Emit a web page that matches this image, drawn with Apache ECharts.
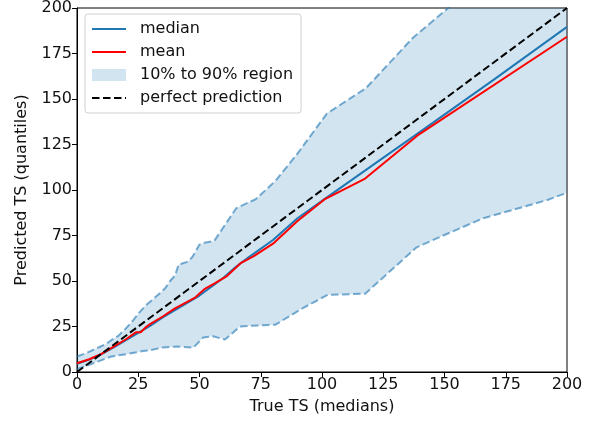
<!DOCTYPE html>
<html>
<head>
<meta charset="utf-8">
<script src="https://cdn.jsdelivr.net/npm/echarts@6/dist/echarts.min.js"></script>
<style>
html, body { margin: 0; padding: 0; background: #fff; }
#chart { width: 597px; height: 423px; }
</style>
</head>
<body>
<div id="chart"></div>
<script>
// values, [true TS, predicted TS]
var medianPts = [[0, 4.5], [5, 6.8], [10, 9.8], [15, 13.5], [20, 17.5], [25, 21.5], [30, 25.5], [35, 30],
    [40, 34], [45, 38], [50, 42], [55, 47], [60, 52], [65, 58], [70, 63], [80, 72.5], [90, 84.5],
    [101, 95], [120, 113], [139, 131], [170, 160.5], [200, 189.6]];
var meanPts = [[0, 4.8], [5, 7], [10, 10], [15, 14], [20, 18], [24, 21.8], [26, 21.8], [28, 24.5], [30, 26.5],
    [35, 30.5], [40, 35], [45, 38.5], [48, 40.7], [52, 45.5], [56, 48.5], [61, 52.5], [67, 60], [72, 63.5],
    [80, 70.5], [90, 83], [101, 94.8], [117.6, 106.3], [139, 130], [200, 184.2]];
var upperPts = [[0, 8.5], [4, 10.5], [8, 13], [12, 15.5], [14, 17.5], [17, 20], [20, 24], [23, 28.5], [25, 32],
    [28, 36.5], [31, 40], [34, 43.5], [36, 46], [38, 50], [40, 53], [41.5, 59], [45, 60.5], [47, 63], [50, 70],
    [52, 71], [56, 72], [60, 80], [65, 90], [73, 95], [81, 105], [90, 120], [102, 142], [118, 156],
    [137, 183.5], [151.5, 200], [175, 230], [200, 262]];
var lowerPts = [[0, 1.5], [5, 4], [10, 6.5], [14, 8.5], [20, 9.8], [27, 11.5], [30, 12], [35, 13.5], [41, 14],
    [47.5, 13.4], [51.5, 19], [55.6, 19.6], [60.4, 17.8], [66.5, 25], [71, 25.4], [81, 26], [92, 35],
    [102.4, 42.4], [117.6, 43], [138.6, 68.5], [149.5, 75], [165.8, 84.5], [191.7, 94.4], [200, 98.5]];
var perfectPts = [[0, 0], [200, 200]];
var axisTicks = [0, 25, 50, 75, 100, 125, 150, 175, 200];

var bandFill = 'rgba(31,119,180,0.2)';
var bandEdge = 'rgba(31,119,180,0.6)';
var font = 'DejaVu Sans';
var fontSize = 16;

var chart = echarts.init(document.getElementById('chart'));

// polygon between the 10% and 90% curves
function renderBand(params, api) {
    var pts = [];
    for (var i = 0; i < upperPts.length; i++) {
        pts.push(api.coord(upperPts[i]));
    }
    for (var j = lowerPts.length - 1; j >= 0; j--) {
        pts.push(api.coord(lowerPts[j]));
    }
    var cs = params.coordSys;
    return {
        type: 'polygon',
        shape: { points: pts },
        style: { fill: bandFill },
        clipPath: { type: 'rect', shape: { x: cs.x, y: cs.y, width: cs.width, height: cs.height } }
    };
}

function axisOpt(name, gap) {
    return {
        type: 'value',
        min: axisTicks[0],
        max: axisTicks[axisTicks.length - 1],
        interval: 25,
        name: name,
        nameLocation: 'middle',
        nameGap: gap,
        nameTextStyle: { fontFamily: font, fontSize: fontSize, color: '#111' },
        axisLine: { show: true, lineStyle: { color: '#000', width: 1 } },
        axisTick: { show: true, inside: false, length: 5, lineStyle: { color: '#000' } },
        axisLabel: { fontFamily: font, fontSize: fontSize, color: '#111', margin: 5 },
        splitLine: { show: false }
    };
}

var option = {
    animation: false,
    grid: { left: 77, right: 30, top: 7, bottom: 51, show: true, borderColor: '#000', borderWidth: 1 },
    xAxis: axisOpt('True TS (medians)', 27),
    yAxis: axisOpt('Predicted TS (quantiles)', 47),
    legend: {
        orient: 'vertical',
        left: 85,
        top: 14,
        padding: [7, 8, 7, 6],
        itemWidth: 34,
        itemHeight: 12,
        itemGap: 7,
        backgroundColor: 'rgba(255,255,255,0.8)',
        borderColor: '#d0d0d0',
        borderWidth: 1,
        borderRadius: 3,
        // hide the circle echarts puts on line icons
        itemStyle: { opacity: 0 },
        textStyle: { fontFamily: font, fontSize: fontSize, color: '#111', padding: [0, 0, 0, 9] },
        data: [
            { name: 'median' },
            { name: 'mean' },
            { name: '10% to 90% region', icon: 'rect', itemStyle: { color: bandFill, opacity: 1 } },
            { name: 'perfect prediction' }
        ]
    },
    series: [{
        name: '10% to 90% region',
        type: 'custom',
        renderItem: renderBand,
        data: [[0, 0]],
        itemStyle: { color: bandFill },
        silent: true,
        z: 1
    }, {
        name: 'upper',
        type: 'line',
        data: upperPts,
        symbol: 'none',
        lineStyle: { color: bandEdge, width: 2, type: [7.5, 3.5] },
        z: 2
    }, {
        name: 'lower',
        type: 'line',
        data: lowerPts,
        symbol: 'none',
        lineStyle: { color: bandEdge, width: 2, type: [7.5, 3.5] },
        z: 2
    }, {
        name: 'median',
        type: 'line',
        data: medianPts,
        symbol: 'none',
        itemStyle: { color: '#1f77b4' },
        lineStyle: { color: '#1f77b4', width: 2 },
        z: 3
    }, {
        name: 'mean',
        type: 'line',
        data: meanPts,
        symbol: 'none',
        itemStyle: { color: '#ff0000' },
        lineStyle: { color: '#ff0000', width: 2 },
        z: 4
    }, {
        name: 'perfect prediction',
        type: 'line',
        data: perfectPts,
        symbol: 'none',
        itemStyle: { color: '#000' },
        lineStyle: { color: '#000', width: 2, type: [7.5, 3.5] },
        z: 5
    }]
};
chart.setOption(option);
</script>
</body>
</html>
